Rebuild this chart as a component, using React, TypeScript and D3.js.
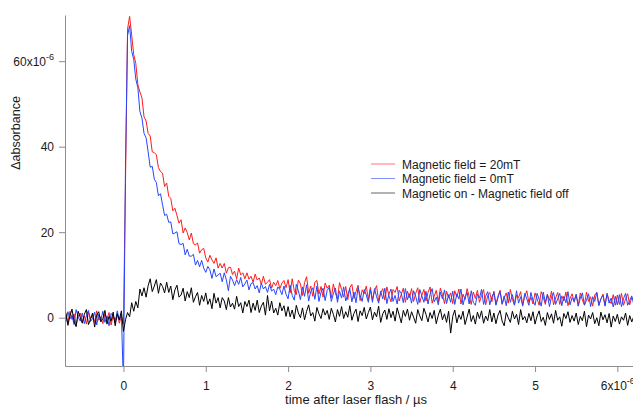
import React from 'react';
import * as d3 from 'd3';

// sampling grid of the traces (microseconds)
const T_START = -0.7;
const T_STEP = 0.025;

// Magnetic field = 20mT  (x1e-6)
const red20mT = [
    0.8, -1.2, 1.5, -0.4, 0.9, -1.8, 0.3, 1.1, -0.9, 0.4,
    -1.5, 1.3, -0.2, 0.7, -1.1, 1.6, -0.6, 0.2, -1.4, 0.9,
    -0.3, 1.2, -1.7, 0.5, -0.8, 1.0, -1.3, 0.4,
    -1.5, 32, 67.5, 70.5,
    66.1, 61.5, 59.5, 54.5, 52.8, 51.4, 47.0, 46.0, 43.1, 42.5,
    38.8, 38.6, 38.1, 35.1, 34.2, 33.8, 30.7, 31.5, 28.4, 27.9,
    25.0, 25.6, 23.9, 22.1, 22.9, 19.8, 21.0, 19.9, 18.2, 19.8,
    17.3, 17.0, 17.5, 15.1, 15.9, 16.2, 14.0, 13.0, 14.6, 13.5,
    12.7, 14.0, 11.6, 12.7, 11.6, 12.7, 10.4, 11.7, 11.8, 10.1,
    10.9, 9.1, 11.6, 10.0, 10.5, 9.1, 10.5, 9.0, 9.7, 8.3,
    10.2, 8.8, 9.3, 7.8, 9.7, 7.8, 8.3, 8.9, 6.9, 8.3,
    7.5, 8.7, 6.8, 8.1, 8.7, 7.0,
    8.9, 5.8, 9.1, 6.3, 5.4, 8.8, 7.9, 5.2, 8.2, 9.6, 5.7, 7.4, 5.0, 8.3, 8.7, 5.5, 7.3, 4.8, 8.1, 6.9,
    7.6, 4.6, 7.9, 5.8, 4.3, 8.2, 6.6, 4.8, 7.3, 4.2, 7.0, 7.8, 4.5, 6.1, 7.6, 4.0, 6.5, 5.6, 7.4, 4.2,
    7.1, 4.2, 6.3, 7.5, 3.8, 5.8, 6.8, 4.1, 7.2, 5.2, 3.7, 6.6, 5.9, 7.3, 3.9, 5.5, 6.9, 3.6, 6.2, 4.7,
    6.8, 3.8, 5.7, 7.0, 3.5, 5.3, 6.6, 3.9, 5.9, 7.2, 3.4, 5.0, 6.4, 3.7, 6.9, 5.4, 3.3, 6.2, 4.6, 5.8,
    3.3, 6.3, 4.8, 6.7, 3.2, 5.5, 4.2, 6.8, 5.0, 3.1, 6.0, 4.5, 6.4, 3.6, 5.2, 6.6, 3.0, 5.1, 5.9, 3.7,
    6.2, 3.2, 5.0, 6.4, 3.1, 4.6, 5.8, 3.4, 6.6, 4.3, 2.9, 5.3, 4.7, 6.1, 3.0, 5.0, 6.3, 3.6, 4.8, 3.2,
    5.8, 4.4, 2.9, 6.1, 4.8, 3.1, 5.5, 4.0, 6.2, 3.0, 4.6, 5.9, 3.1, 5.1, 3.9, 6.0, 2.8, 4.5, 5.6, 3.6,
    5.4, 2.8, 5.8, 4.1, 3.0, 6.0, 3.8, 4.9, 2.7, 5.3, 5.9, 3.0, 4.4, 5.5, 2.9, 5.7, 4.0, 3.3, 5.4, 2.9,
    5.3, 3.1, 5.7, 2.9, 4.4, 5.6, 3.0, 4.7, 4.0,
];

// Magnetic field = 0mT
const blue0mT = [
    -1.0, 1.4, -0.3, 0.6, -1.6, 1.9, 0.2, -0.8, 1.1, -1.4,
    0.5, 1.7, -0.9, -0.2, 1.3, -1.7, 0.8, -0.5, 1.5, -1.1,
    0.3, -1.9, 1.0, 0.4, -1.3, 1.6, -0.6, 0.9,
    -16, 36, 66, 68.3,
    62.3, 60.4, 55.8, 53.8, 48.2, 46.7, 43.1, 42.1, 38.8, 35.2,
    35.4, 32.4, 31.6, 28.5, 29.0, 26.4, 23.9, 24.2, 22.3, 22.4,
    19.6, 19.8, 20.1, 17.3, 17.1, 17.4, 14.7, 16.0, 14.4, 14.4,
    14.8, 12.3, 13.4, 11.9, 13.4, 11.6, 10.6, 12.0, 11.2, 9.2,
    11.4, 9.6, 10.0, 10.4, 8.4, 10.5, 8.8, 6.3, 9.7, 8.8,
    7.5, 8.9, 7.8, 9.4, 7.2, 7.9, 8.8, 6.5, 8.0, 8.2,
    6.7, 7.5, 5.8, 8.1, 6.7, 7.3, 5.9, 7.8, 6.2, 6.7,
    5.4, 7.2, 6.6, 5.4, 7.4, 5.5,
    4.4, 7.6, 5.2, 4.1, 7.8, 6.3, 4.2, 7.2, 5.0, 7.7, 3.9, 6.1, 7.0, 4.3, 7.4, 3.8, 5.9, 6.9, 4.0, 6.4,
    7.1, 3.8, 5.6, 6.9, 3.6, 6.2, 4.6, 7.2, 3.9, 5.4, 6.8, 3.7, 6.0, 3.5, 7.0, 5.2, 3.8, 6.6, 5.3, 3.6,
    6.6, 3.6, 6.8, 4.9, 3.4, 6.2, 4.4, 6.9, 3.3, 5.5, 6.7, 3.8, 5.2, 3.2, 6.4, 5.7, 3.5, 6.8, 4.2, 5.6,
    3.4, 6.3, 5.0, 3.1, 6.6, 5.1, 3.6, 6.2, 3.2, 5.5, 6.8, 3.7, 4.8, 3.0, 6.0, 4.4, 6.5, 3.3, 5.4, 3.6,
    6.2, 3.1, 5.6, 4.4, 6.7, 3.0, 4.9, 5.9, 3.2, 6.3, 3.6, 2.9, 5.5, 4.6, 6.6, 3.1, 5.0, 6.1, 3.0, 4.8,
    5.9, 2.9, 4.7, 6.2, 3.3, 5.1, 2.8, 6.0, 3.6, 5.4, 3.0, 6.3, 3.4, 4.9, 2.7, 5.7, 4.4, 2.9, 5.9, 4.0,
    2.9, 5.7, 4.3, 2.7, 6.0, 3.6, 5.4, 2.6, 4.8, 5.9, 3.1, 4.4, 5.7, 2.8, 5.0, 3.5, 6.1, 3.0, 4.7, 3.9,
    5.5, 2.7, 4.6, 5.8, 2.9, 4.1, 5.6, 2.6, 4.9, 3.8, 5.9, 2.8, 4.4, 5.3, 2.7, 5.6, 3.4, 4.6, 2.5, 5.0,
    3.0, 5.4, 2.6, 4.5, 5.7, 2.9, 4.0, 5.1, 3.0,
];

// Magnetic on - Magnetic field off
const diffOnOff = [
    1.2, -1.8, 0.4, 2.0, -0.9, -2.1, 1.5, 0.1, -1.3, 0.8,
    1.9, -1.6, -0.4, 1.1, -2.2, 0.6, 1.4, -1.0, -0.2, 1.7,
    -1.5, 0.3, -0.8, 1.3, -1.9, 0.9, -0.5, 1.6,
    -3.2, -0.5, 1.2, 0.2,
    3.5, 1.5, 3.8, 2.3, 6.7, 5.1, 7.0, 4.8, 7.5, 9.1,
    6.1, 7.4, 8.9, 5.7, 8.1, 7.3, 5.8, 8.3, 5.9, 7.4,
    4.2, 6.5, 7.6, 4.8, 5.3, 6.9, 3.9, 6.1, 4.7, 7.0,
    3.6, 4.9, 5.9, 2.9, 5.2, 3.8, 5.8, 3.1, 4.4, 2.1,
    5.7, 3.4, 4.7, 2.3, 4.7, 3.9, 1.9, 4.7, 2.5, 3.4,
    2.0, 5.0, 2.6, 3.5, 1.1, 3.8, 2.6, 4.1, 1.2, 3.4,
    1.7, 4.1, 1.2, 2.7, 3.6, 0.6, 5.2, 1.6, 3.9, 1.1,
    2.2, 0.6, 3.5, 1.6, 2.8, 0.3,
    2.6, 0.2, 1.8, -0.3, 2.9, 1.1, 0.0, 2.3, -0.5, 1.5, 3.0, 0.4, 1.2, -0.8, 2.4, 0.9, -0.2, 2.1, 0.6, 1.7,
    -0.4, 2.2, 0.8, -1.0, 1.9, 0.3, 2.6, -0.2, 1.4, 0.1, 2.8, -0.6, 1.0, 2.0, -0.9, 1.6, 0.5, 2.4, -0.3, 1.2,
    2.5, -0.5, 1.3, 0.2, 2.7, -1.1, 0.9, 1.8, -0.4, 2.1, 0.0, 1.5, -0.8, 2.3, 0.6, -1.2, 1.7, 0.3, 2.0, -0.6,
    1.4, 0.1, -1.3, 1.9, 0.4, -0.7, 2.2, 0.8, -1.0, 1.2, -0.2, 1.7, -1.4, 0.6, 2.0, -0.5, 0.9, -1.1, 1.5, -3.6,
    0.3, 1.8, -1.2, 0.7, -0.4, 1.5, -1.6, 0.2, 2.0, -0.9, 0.5, -1.5, 1.3, -0.2, 1.6, -1.3, 0.4, -0.7, 1.9, -1.0,
    1.1, -1.4, 0.6, 1.7, -0.8, -1.9, 1.2, 0.0, -1.1, 1.5, -0.3, 0.8, -1.6, 1.9, -0.5, 0.3, -1.2, 1.0, -0.7, 1.4,
    -1.5, 0.4, 1.6, -0.9, 0.1, -1.8, 1.2, -0.4, 0.9, -1.3, 1.7, -0.6, 0.2, -2.0, 1.0, -0.2, 1.4, -1.1, 0.5, -0.8,
    1.1, -1.6, 0.3, -0.7, 1.5, -2.1, 0.6, -0.3, 1.2, -1.4, 0.0, -1.9, 1.3, -0.5, 0.7, -1.2, 1.0, -2.2, 0.4, -0.9,
    0.8, -1.5, 0.2, -0.6, 1.1, -1.8, 0.5, -1.0, 0.3,
];

const seriesList = [
    { name: 'Magnetic field = 20mT', values: red20mT, color: '#ff1a1a' },
    { name: 'Magnetic field = 0mT', values: blue0mT, color: '#2646ff' },
    { name: 'Magnetic on - Magnetic field off', values: diffOnOff, color: '#000000' },
];

const xTicks = [0, 1, 2, 3, 4, 5, 6];
const yTicks = [0, 20, 40, 60];
const xTitle = 'time after laser flash / \u00b5s';
const yTitle = '\u0394absorbance';

export default class App extends React.Component {
    constructor(props) {
        super(props);
        this.width = 633;
        this.height = 409;
        this.drawChart = this.drawChart.bind(this);
    }

    componentDidMount() {
        this.drawChart();
    }

    drawChart() {
        let svg = d3.select('#transient');
        svg.selectAll('*').remove();

        let font = '"Liberation Sans", Arial, sans-serif';
        let axisColor = '#8c8c8c';

        let x = d3.scaleLinear().domain([-0.71, 6.19]).range([65, 633]);
        let y = d3.scaleLinear().domain([-11.3, 70.8]).range([366, 15]);

        svg.append('clipPath').attr('id', 'plotArea')
            .append('rect')
            .attr('x', 65).attr('y', 15)
            .attr('width', 633 - 65).attr('height', 366 - 15);

        // traces
        let line = d3.line()
            .x((d, i) => x(T_START + i * T_STEP))
            .y(d => y(d));

        let traces = svg.append('g').attr('clip-path', 'url(#plotArea)');
        seriesList.forEach(s => {
            traces.append('path')
                .datum(s.values)
                .attr('d', line)
                .attr('fill', 'none')
                .attr('stroke', s.color)
                .attr('stroke-width', 1)
                .attr('stroke-linejoin', 'round');
        });

        // axes
        let xAxis = svg.append('g')
            .attr('transform', 'translate(0,366)')
            .call(d3.axisBottom(x).tickValues(xTicks).tickSize(6).tickSizeOuter(0).tickPadding(9)
                .tickFormat(d => (d === 6 ? '' : String(d))));
        let yAxis = svg.append('g')
            .attr('transform', 'translate(65,0)')
            .call(d3.axisLeft(y).tickValues(yTicks).tickSize(6).tickSizeOuter(0).tickPadding(5)
                .tickFormat(d => (d === 60 ? '' : String(d))));

        [xAxis, yAxis].forEach(g => {
            g.select('.domain').attr('stroke', axisColor);
            g.selectAll('.tick line').attr('stroke', axisColor);
            g.selectAll('.tick text')
                .attr('font-family', font)
                .attr('font-size', 12)
                .attr('fill', '#1a1a1a');
        });

        // exponent labels
        let xLast = xAxis.selectAll('.tick text').filter(d => d === 6);
        xLast.append('tspan').text('6x10');
        xLast.append('tspan').attr('font-size', 9).attr('dy', -6).text('-6');

        let yLast = yAxis.selectAll('.tick text').filter(d => d === 60);
        yLast.append('tspan').text('60x10');
        yLast.append('tspan').attr('font-size', 9).attr('dy', -6).text('-6');

        // titles
        svg.append('text')
            .attr('x', 356).attr('y', 404)
            .attr('text-anchor', 'middle')
            .attr('font-family', font).attr('font-size', 13)
            .attr('fill', '#1a1a1a')
            .text(xTitle);

        svg.append('text')
            .attr('transform', 'translate(20,133) rotate(-90)')
            .attr('text-anchor', 'middle')
            .attr('font-family', font).attr('font-size', 12.5)
            .attr('fill', '#1a1a1a')
            .text(yTitle);

        // legend
        seriesList.forEach((s, i) => {
            let ly = 164 + i * 14.5;
            svg.append('line')
                .attr('x1', 371).attr('x2', 395)
                .attr('y1', ly).attr('y2', ly)
                .attr('stroke', s.color)
                .attr('stroke-opacity', 0.6)
                .attr('stroke-width', 1);
            svg.append('text')
                .attr('x', 402).attr('y', ly + 4.5)
                .attr('font-family', font).attr('font-size', 12)
                .attr('fill', '#1a1a1a')
                .text(s.name);
        });
    }

    render() {
        return (
            <svg id="transient" width={this.width} height={this.height}
                style={{ position: 'absolute', left: 0, top: 0, background: '#fff' }} />
        );
    }
}
